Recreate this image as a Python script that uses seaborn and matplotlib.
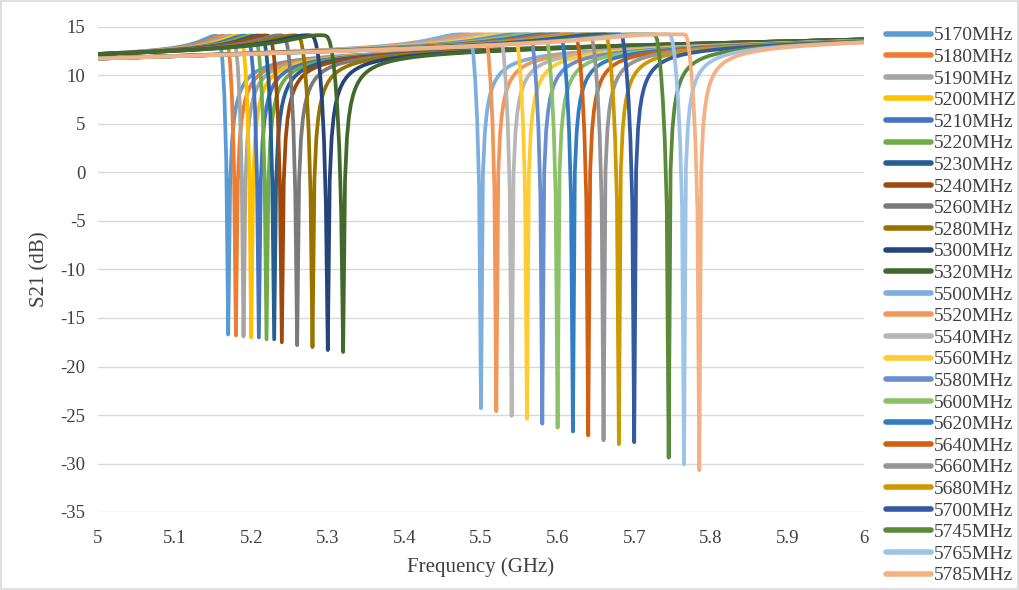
import numpy as np
import pandas as pd
import matplotlib
matplotlib.use("Agg")
import matplotlib.pyplot as plt
import seaborn as sns

# ---- data ----
labels = ["5170MHz", "5180MHz", "5190MHz", "5200MHZ", "5210MHz", "5220MHz", "5230MHz",
          "5240MHz", "5260MHz", "5280MHz", "5300MHz", "5320MHz", "5500MHz", "5520MHz",
          "5540MHz", "5560MHz", "5580MHz", "5600MHz", "5620MHz", "5640MHz", "5660MHz",
          "5680MHz", "5700MHz", "5745MHz", "5765MHz", "5785MHz"]
notch_mhz = [5170, 5180, 5190, 5200, 5210, 5220, 5230, 5240, 5260, 5280, 5300, 5320,
             5500, 5520, 5540, 5560, 5580, 5600, 5620, 5640, 5660, 5680, 5700, 5745, 5765, 5785]
notch_min_db = [-16.7, -16.8, -16.9, -17.0, -17.0, -17.2, -17.2, -17.5, -17.8, -18.0, -18.3, -18.5,
                -24.3, -24.6, -25.1, -25.4, -25.9, -26.3, -26.7, -27.1, -27.6, -28.0, -27.8,
                -29.4, -30.1, -30.7]
# resonance pole: offset below the notch and its damping (GHz)
peak_offset_ghz = [0.0065, 0.0067, 0.007, 0.0072, 0.0075, 0.0078, 0.008, 0.0085, 0.009, 0.0095, 0.0105, 0.0115,
                   0.0095, 0.0098, 0.010, 0.0103, 0.0106, 0.0108, 0.011, 0.0113, 0.0116, 0.0118, 0.012,
                   0.0125, 0.0128, 0.013]
peak_damping_ghz = [0.0081, 0.0084, 0.0087, 0.009, 0.0094, 0.0097, 0.010, 0.0106, 0.0112, 0.0119, 0.0131, 0.0144,
                    0.0106, 0.0109, 0.0111, 0.0114, 0.0118, 0.012, 0.0122, 0.0126, 0.0129, 0.0131, 0.0133,
                    0.0139, 0.0142, 0.0144]
# recovery width above the notch (GHz)
recovery_ghz = [0.009] * 12 + [0.0085] * 14
# passband level at 5 GHz and 6 GHz, and the top of the resonance peak
band_start_db = [11.9] * 12 + [11.6] * 14
band_end_db = [13.85] * 12 + [13.75] * 14
peak_top_db = [14.2] * 12 + [14.25] * 14
colors = ["#5B9BD5", "#ED7D31", "#A5A5A5", "#FFC000", "#4472C4", "#70AD47", "#255E91",
          "#9E480E", "#7A7A7A", "#997300", "#264478", "#43682B", "#7CAFDD", "#F1975A",
          "#B7B7B7", "#FFCD33", "#698ED0", "#8CC168", "#327DC2", "#D26012", "#959595",
          "#CC9A00", "#335AA1", "#5A8A39", "#9DC3E6", "#F4B183"]
x_ticks = [5.0, 5.1, 5.2, 5.3, 5.4, 5.5, 5.6, 5.7, 5.8, 5.9, 6.0]
x_tick_labels = ["5", "5.1", "5.2", "5.3", "5.4", "5.5", "5.6", "5.7", "5.8", "5.9", "6"]
y_ticks = [-35, -30, -25, -20, -15, -10, -5, 0, 5, 10, 15]

# ---- build the notch responses, sampled every 2.5 MHz ----
f_mhz = np.arange(10000, 12001, 5) / 2.0
freq = f_mhz / 1000.0
k_cap = 4.0
rows = []
for lab, fz, ymin, dl, beta, dr, b0, b1, cap in zip(labels, notch_mhz, notch_min_db,
                                                    peak_offset_ghz, peak_damping_ghz,
                                                    recovery_ghz, band_start_db, band_end_db,
                                                    peak_top_db):
    u = (f_mhz - fz) / 1000.0
    base = b0 + (b1 - b0) * (freq - 5.0)
    au = np.where(u == 0, 1.0, np.abs(u))
    den = np.where(u < 0, np.sqrt((u + dl) ** 2 + beta ** 2), au + dr)
    rel = 20.0 * np.log10(au / den)
    raw = base + rel
    y = -np.logaddexp(-k_cap * raw, -k_cap * cap) / k_cap
    y = np.where(u == 0, ymin, y)
    rows.append(pd.DataFrame({"freq": freq, "s21": y, "series": lab}))
df = pd.concat(rows, ignore_index=True)

# ---- plot ----
sns.set_theme(style="white")
plt.rcParams["font.family"] = ["Liberation Serif", "DejaVu Serif"]

fig = plt.figure(figsize=(10.2, 5.9), dpi=100)
fig.patch.set_facecolor("white")
ax = fig.add_axes([98 / 1020, 1 - 512 / 590, (864 - 98) / 1020, (512 - 27) / 590])

sns.lineplot(data=df, x="freq", y="s21", hue="series", hue_order=labels, palette=colors,
             estimator=None, sort=False, linewidth=2.7, ax=ax, legend=True)
for ln in ax.lines:
    ln.set_solid_capstyle("round")
    ln.set_solid_joinstyle("round")

ax.set_xlim(5, 6)
ax.set_ylim(-35, 15)
ax.set_xticks(x_ticks)
ax.set_xticklabels(x_tick_labels)
ax.set_yticks(y_ticks)
ax.set_yticklabels([str(v) for v in y_ticks])
ax.yaxis.grid(True, color="#D9D9D9", linewidth=1.0)
ax.xaxis.grid(False)
ax.set_axisbelow(True)
for sp in ax.spines.values():
    sp.set_visible(False)
ax.tick_params(axis="both", length=0, labelsize=13.5, colors="#404040")
ax.tick_params(axis="x", pad=13)
ax.tick_params(axis="y", pad=9)
ax.set_xlabel("Frequency (GHz)", fontsize=15, color="#404040", labelpad=7)
ax.set_ylabel("S21 (dB)", fontsize=15, color="#404040", labelpad=8)

handles, labs = ax.get_legend_handles_labels()
ax.get_legend().remove()
for h in handles:
    h.set_linewidth(4)
    h.set_solid_capstyle("round")
fig.legend(handles, labs, loc="upper left", bbox_to_anchor=(878 / 1020, 1 - 19 / 590),
           frameon=False, fontsize=14, handlelength=2.3, handletextpad=0.15,
           labelspacing=0.205, borderaxespad=0, labelcolor="#404040")

# thin chart-area border
fig.add_artist(plt.Rectangle((0.001, 0.002), 0.997, 0.996, transform=fig.transFigure,
                             fill=False, edgecolor="#D9D9D9", linewidth=1.2))

fig.savefig("out.png", dpi=100, facecolor="white")
